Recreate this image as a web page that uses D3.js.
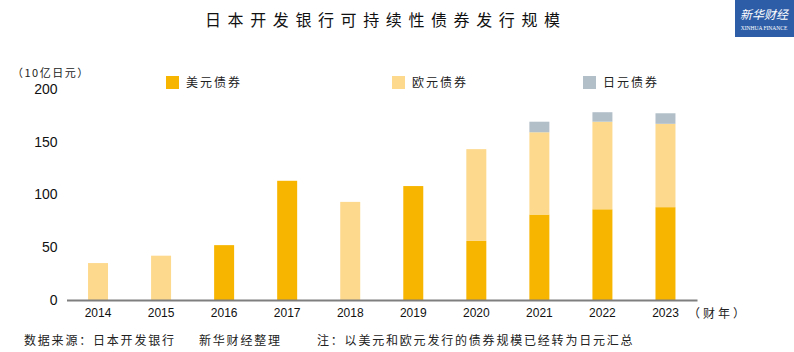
<!DOCTYPE html>
<html>
<head>
<meta charset="utf-8">
<script src="https://cdn.jsdelivr.net/npm/d3@7"></script>
<style>
  body { margin: 0; background: #fff; }
  svg { display: block; }
</style>
</head>
<body>
<div id="chart"></div>
<script>
// data (10亿日元)
const years = ["2014", "2015", "2016", "2017", "2018", "2019", "2020", "2021", "2022", "2023"];
const usdBonds = [0, 0, 52, 113, 0, 108, 56, 81, 86, 88];
const eurBonds = [35, 42, 0, 0, 93, 0, 87, 78, 83, 79];
const jpyBonds = [0, 0, 0, 0, 0, 0, 0, 10, 9, 10];
const seriesNames = ["美元债券", "欧元债券", "日元债券"];
const seriesColors = ["#F7B500", "#FDD98D", "#B2BFC9"];
const yTicks = [0, 50, 100, 150, 200];

const width = 794, height = 352;
const margin = {top: 89, right: 97, bottom: 52, left: 66.5};

const svg = d3.select("#chart").append("svg")
    .attr("width", width)
    .attr("height", height);

const rows = years.map((y, i) => ({year: y, usd: usdBonds[i], eur: eurBonds[i], jpy: jpyBonds[i]}));
const stacked = d3.stack().keys(["usd", "eur", "jpy"])(rows);

const x = d3.scaleBand()
    .domain(years)
    .range([margin.left, width - margin.right])
    .paddingInner(0.683)
    .paddingOuter(0.3415);

const y = d3.scaleLinear()
    .domain([0, 200])
    .range([height - margin.bottom, margin.top]);

// title
svg.append("text")
    .attr("x", 205)
    .attr("y", 26)
    .attr("font-family", "'Noto Sans CJK SC', sans-serif")
    .attr("font-size", 16)
    .attr("letter-spacing", 6.6)
    .attr("fill", "#111")
    .text("日本开发银行可持续性债券发行规模");

// xinhua logo box
const logo = svg.append("g");
logo.append("rect")
    .attr("x", 735).attr("y", 0)
    .attr("width", 59).attr("height", 37)
    .attr("fill", "#2E5DA8");
logo.append("text")
    .attr("x", 764).attr("y", 19)
    .attr("text-anchor", "middle")
    .attr("font-family", "'Noto Sans CJK SC', sans-serif")
    .attr("font-size", 12)
    .attr("font-style", "italic")
    .attr("fill", "#fff")
    .text("新华财经");
logo.append("text")
    .attr("x", 764).attr("y", 30)
    .attr("text-anchor", "middle")
    .attr("font-family", "'Liberation Serif', serif")
    .attr("font-size", 5.5)
    .attr("fill", "#fff")
    .text("XINHUA FINANCE");

// unit label
svg.append("text")
    .attr("x", 12)
    .attr("y", 77)
    .attr("font-family", "'Noto Sans CJK SC', sans-serif")
    .attr("font-size", 11)
    .attr("letter-spacing", 1.5)
    .attr("fill", "#222")
    .text("（10亿日元）");

// legend
const legendX = [166, 392, 583];
seriesNames.forEach((name, i) => {
    svg.append("rect")
        .attr("x", legendX[i]).attr("y", 76)
        .attr("width", 13).attr("height", 13)
        .attr("fill", seriesColors[i]);
    svg.append("text")
        .attr("x", legendX[i] + 20)
        .attr("y", 87)
        .attr("font-family", "'Noto Sans CJK SC', sans-serif")
        .attr("font-size", 12)
        .attr("letter-spacing", 2)
        .attr("fill", "#222")
        .text(name);
});

// bars
svg.append("g")
    .selectAll("g")
    .data(stacked)
    .join("g")
    .attr("fill", (d, i) => seriesColors[i])
    .selectAll("rect")
    .data(d => d)
    .join("rect")
    .attr("x", d => x(d.data.year))
    .attr("y", d => y(d[1]))
    .attr("width", x.bandwidth())
    .attr("height", d => y(d[0]) - y(d[1]));

// y axis (labels only)
const yAxis = svg.append("g")
    .attr("transform", `translate(${margin.left - 9},0)`)
    .call(d3.axisLeft(y).tickValues(yTicks).tickSize(0).tickPadding(0));
yAxis.select(".domain").remove();
yAxis.selectAll("text")
    .attr("font-family", "'Liberation Sans', Arial, sans-serif")
    .attr("font-size", 14)
    .attr("fill", "#111");

// x axis
const xAxis = svg.append("g")
    .attr("transform", `translate(0,${y(0)})`)
    .call(d3.axisBottom(x).tickSize(0).tickPadding(8));
xAxis.select(".domain")
    .attr("stroke", "#7f7f7f")
    .attr("stroke-width", 2);
xAxis.selectAll("text")
    .attr("font-family", "'Liberation Sans', Arial, sans-serif")
    .attr("font-size", 12)
    .attr("fill", "#111");

svg.append("text")
    .attr("x", 688)
    .attr("y", 318)
    .attr("font-family", "'Noto Sans CJK SC', sans-serif")
    .attr("font-size", 12)
    .attr("letter-spacing", 3)
    .attr("fill", "#222")
    .text("（财年）");

// footer
const footer = [
    {x: 24, t: "数据来源：日本开发银行"},
    {x: 199, t: "新华财经整理"},
    {x: 317, t: "注：以美元和欧元发行的债券规模已经转为日元汇总"}
];
footer.forEach(f => {
    svg.append("text")
        .attr("x", f.x)
        .attr("y", 345)
        .attr("font-family", "'Noto Sans CJK SC', sans-serif")
        .attr("font-size", 12)
        .attr("letter-spacing", 1.8)
        .attr("fill", "#222")
        .text(f.t);
});
</script>
</body>
</html>
